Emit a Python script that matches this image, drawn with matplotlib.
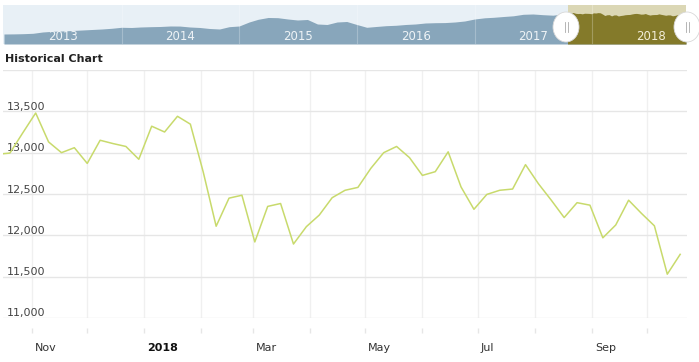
import matplotlib
matplotlib.use('Agg')
import matplotlib.pyplot as plt
import matplotlib.dates as mdates
import matplotlib.transforms as mtransforms
from matplotlib.patches import Ellipse, Rectangle
from matplotlib.lines import Line2D
import numpy as np
import pandas as pd

# ---------------- data ----------------
weekly_dates = pd.date_range('2017-10-13', periods=54, freq='7D')
weekly_values = [12980, 12995, 13240, 13480, 13130, 13000, 13060, 12870, 13150, 13110,
                 13075, 12920, 13320, 13250, 13440, 13345, 12765, 12110, 12450, 12485,
                 11920, 12350, 12385, 11895, 12105, 12245, 12455, 12545, 12580, 12810,
                 13000, 13075, 12940, 12725, 12770, 13010, 12585, 12315, 12495, 12545,
                 12560, 12855, 12625, 12425, 12215, 12395, 12365, 11970, 12125, 12425,
                 12265, 12115, 11530, 11770]

nav_monthly_dates = pd.date_range('2013-01-01', periods=58, freq='MS')
nav_monthly_values = [3602, 3650, 3740, 3924, 4522, 4844, 4982, 5212, 5442, 5672,
                      5902, 6224, 6684, 6592, 6822, 6960, 7052, 7282, 7250, 6822,
                      6592, 6132, 5902, 6960, 7282, 9122, 10364, 11192, 11100, 10502,
                      10042, 10272, 8202, 7972, 9122, 9352, 7972, 6684, 7052, 7420,
                      7604, 7972, 8202, 8662, 8800, 8850, 9122, 9582, 10502, 11050,
                      11284, 11652, 11974, 12664, 12802, 12480, 12250, 12800]

month_ticks = pd.date_range('2017-11-01', '2018-10-01', freq='MS')
month_labels = ['Nov', '', '2018', '', 'Mar', '', 'May', '', 'Jul', '', 'Sep', '']
y_ticks = [11000, 11500, 12000, 12500, 13000, 13500, 14000]
y_labels = ['11,000', '11,500', '12,000', '12,500', '13,000', '13,500', '']
nav_years = [2013, 2014, 2015, 2016, 2017, 2018]

# ---------------- figure ----------------
W, H = 699, 362
fig = plt.figure(figsize=(W / 100, H / 100), dpi=100)
fig.patch.set_facecolor('white')


def rect(x0, y0, x1, y1):
    return [x0 / W, 1 - y1 / H, (x1 - x0) / W, (y1 - y0) / H]


x_start = pd.Timestamp('2017-10-16 06:00')
x_end = pd.Timestamp('2018-10-22 17:00')

# ---------------- main chart ----------------
ax = fig.add_axes(rect(3, 70, 687, 318))
ax.set_xlim(x_start, x_end)
ax.set_ylim(11000, 14000)
ax.plot(weekly_dates, weekly_values, color='#c8da6c', lw=1.1, zorder=3)
for s in ax.spines.values():
    s.set_visible(False)
ax.spines['bottom'].set_position(('outward', 7.2))

ax.set_yticks(y_ticks)
ax.set_yticklabels([])
ax.tick_params(axis='y', length=0)
ax.grid(axis='y', color='#e6e6e6', lw=1)

ax.set_xticks(month_ticks)
ax.set_xticklabels(month_labels)
ax.grid(axis='x', color='#f0f0f0', lw=1)
ax.tick_params(axis='x', length=3.6, width=1, color='#e6e6e6', pad=7,
               labelsize=8, labelcolor='#333333')
off = mtransforms.ScaledTranslation(3 / 100, 0, fig.dpi_scale_trans)
for lab in ax.get_xticklabels():
    lab.set_horizontalalignment('left')
    lab.set_transform(lab.get_transform() + off)
    if lab.get_text() == '2018':
        lab.set_fontweight('bold')
        lab.set_color('#111111')

ytrans = mtransforms.blended_transform_factory(ax.transAxes, ax.transData) + \
    mtransforms.ScaledTranslation(4 / 100, 1.5 / 100, fig.dpi_scale_trans)
for v, t in zip(y_ticks, y_labels):
    if t:
        ax.text(0, v, t, transform=ytrans, ha='left', va='baseline',
                fontsize=8, color='#444444', zorder=2)

fig.text(5 / W, 1 - 62 / H, 'Historical Chart', fontsize=8, fontweight='bold',
         color='#222222', va='baseline', ha='left')

# ---------------- navigator ----------------
nav = fig.add_axes(rect(3, 5, 686, 44))
nav.set_facecolor('#e8f0f6')
all_dates = list(nav_monthly_dates) + list(weekly_dates)
all_values = list(nav_monthly_values) + list(weekly_values)
nav_lo, nav_hi = -1000, 16940
nav.set_xlim(pd.Timestamp('2012-12-29'), weekly_dates[-1])
nav.set_ylim(nav_lo, nav_hi)
nav.fill_between(all_dates, all_values, nav_lo, color='#88a6bb', lw=0, zorder=1)
nav.axvspan(x_start, weekly_dates[-1] + pd.Timedelta(days=5), color='#dbd7b5', lw=0, zorder=2)
sel = nav.fill_between(all_dates, all_values, nav_lo, color='#847a2a', lw=0, zorder=3)
x0n = mdates.date2num(x_start)
x1n = mdates.date2num(weekly_dates[-1] + pd.Timedelta(days=5))
clip = Rectangle((x0n, nav_lo), x1n - x0n, nav_hi - nav_lo, transform=nav.transData)
sel.set_clip_path(clip)
for yr in nav_years[1:]:
    nav.axvline(pd.Timestamp(f'{yr}-01-01'), color='white', alpha=0.25, lw=0.8, zorder=4)
for yr in nav_years:
    c = '#f3eed8' if yr == 2018 else '#eef3f6'
    nav.text(pd.Timestamp(f'{yr}-07-02'), 0.2, str(yr), transform=nav.get_xaxis_transform(),
             ha='center', va='center', fontsize=8.5, color=c, zorder=5)
nav.set_xticks([])
nav.set_yticks([])
for s in nav.spines.values():
    s.set_visible(False)

# handles
for cx in (566, 687):
    e = Ellipse((cx / 100, (H - 27) / 100), 0.26, 0.30, transform=fig.dpi_scale_trans,
                fc='white', ec='#d8d8d8', lw=0.6, zorder=10)
    fig.add_artist(e)
    for dx in (-1.5, 1.5):
        fig.add_artist(Line2D([(cx + dx) / 100] * 2, [(H - 32) / 100, (H - 22) / 100],
                              transform=fig.dpi_scale_trans, color='#aaaaaa', lw=0.6, zorder=11))

fig.savefig('out.png', dpi=100)
